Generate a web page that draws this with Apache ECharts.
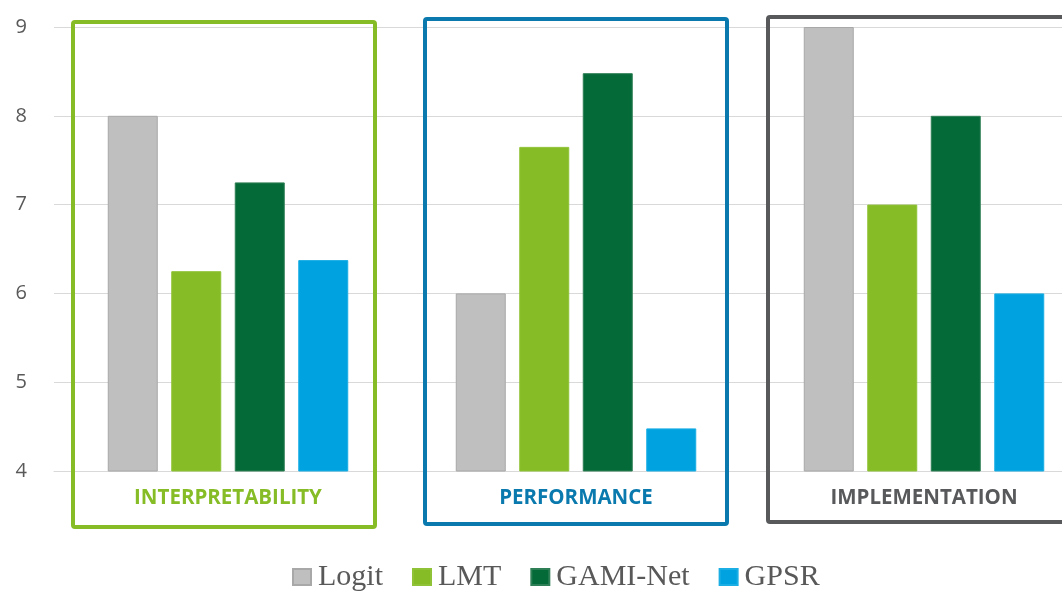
<!DOCTYPE html>
<html>
<head>
<meta charset="utf-8">
<style>
  html, body { margin: 0; padding: 0; background: #ffffff; overflow: hidden; width: 1062px; height: 600px; }
  /* the canvas is wider than the page so the last group runs off the right edge */
  #chart { width: 1098px; height: 600px; }
</style>
<script src="https://cdn.jsdelivr.net/npm/echarts@6/dist/echarts.min.js"></script>
</head>
<body>
<div id="chart"></div>
<script>
// Criteria groups along the x axis
const categories = ['INTERPRETABILITY', 'PERFORMANCE', 'IMPLEMENTATION'];
const categoryColors = ['#86BC25', '#0A7AAE', '#58595B'];

// Scores per model, one value per criterion
const logitValues = [8, 6, 9];
const lmtValues = [6.25, 7.65, 7];
const gamiNetValues = [7.25, 8.48, 8];
const gpsrValues = [6.375, 4.48, 6];

// Value axis ticks
const yTicks = [4, 5, 6, 7, 8, 9];

const chart = echarts.init(document.getElementById('chart'), null, { renderer: 'canvas' });

function barSeries(name, data, color, border) {
  return {
    name: name,
    type: 'bar',
    data: data,
    barWidth: 50,
    barGap: '27%',
    itemStyle: { color: color, borderColor: border, borderWidth: 1 },
    emphasis: { disabled: true },
    z: 3
  };
}

chart.setOption({
  animation: false,
  backgroundColor: '#ffffff',
  grid: { left: 54, top: 27, right: 0, height: 444, containLabel: false },
  xAxis: {
    type: 'category',
    data: categories,
    axisLine: { show: true, lineStyle: { color: '#D9D9D9', width: 1 } },
    axisTick: { show: false },
    axisLabel: {
      margin: 17,
      fontFamily: 'Open Sans',
      fontWeight: 'bold',
      fontSize: 20.5,
      color: function (value, index) { return categoryColors[index]; }
    }
  },
  yAxis: {
    type: 'value',
    min: yTicks[0],
    max: yTicks[yTicks.length - 1],
    interval: 1,
    axisLine: { show: false },
    axisTick: { show: false },
    splitLine: { lineStyle: { color: '#D9D9D9', width: 1 } },
    axisLabel: {
      margin: 27,
      fontFamily: 'Open Sans',
      fontSize: 20,
      color: '#595959'
    }
  },
  legend: {
    bottom: 3,
    left: 287,
    icon: 'rect',
    itemWidth: 18,
    itemHeight: 16,
    itemGap: 29,
    textStyle: {
      fontFamily: 'Liberation Serif',
      fontSize: 30,
      color: '#595959',
      padding: [0, 0, 0, 2]
    },
    data: ['Logit', 'LMT', 'GAMI-Net', 'GPSR']
  },
  series: [
    barSeries('Logit', logitValues, '#BFBFBF', '#A8A8A8'),
    barSeries('LMT', lmtValues, '#86BC25', '#8FC236'),
    barSeries('GAMI-Net', gamiNetValues, '#046A38', '#2E7F55'),
    barSeries('GPSR', gpsrValues, '#00A3E0', '#1AAEE4')
  ]
});

// Outline frames around each criterion group, placed from the axis scales
function drawFrames() {
  const topY = chart.convertToPixel({ yAxisIndex: 0 }, yTicks[yTicks.length - 1]);
  const baseY = chart.convertToPixel({ yAxisIndex: 0 }, yTicks[0]);
  const shifts = [[-4, 3], [0, 0], [-5, -2]];
  const graphics = categories.map(function (c, i) {
    const cx = chart.convertToPixel({ xAxisIndex: 0 }, c) + shifts[i][0];
    const y0 = topY - 8 + shifts[i][1];
    const y1 = baseY + 53 + shifts[i][1];
    return {
      type: 'rect',
      shape: { x: cx - 151, y: y0, width: 302, height: y1 - y0, r: 2 },
      style: { fill: null, stroke: categoryColors[i], lineWidth: 4 },
      silent: true,
      z: 10
    };
  });
  chart.setOption({ graphic: graphics });
}
drawFrames();
</script>
</body>
</html>
